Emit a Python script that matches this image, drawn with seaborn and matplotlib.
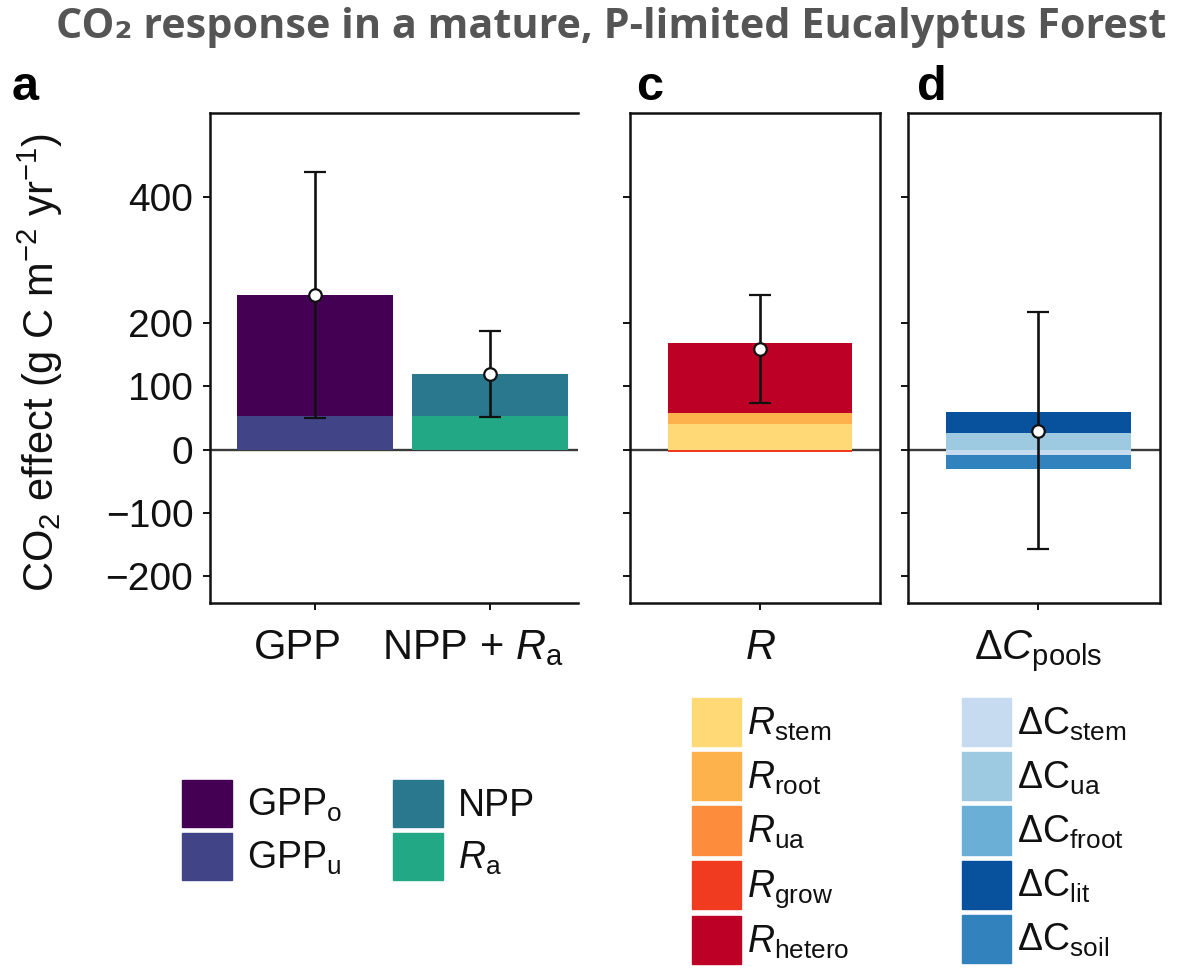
import numpy as np
import pandas as pd
import matplotlib
matplotlib.use("Agg")
import matplotlib.pyplot as plt
import matplotlib.transforms as mtransforms
from matplotlib.patches import Patch
import seaborn as sns

# ---------------- data ----------------
a_categories = ["GPP", "NPP+Ra"]
a_ticklabels = ["GPP", "NPP + $R_\\mathrm{a}$"]
a_components = {
    "GPP": ["GPPu", "GPPo"],
    "NPP+Ra": ["Ra", "NPP"],
}
a_values = {"GPPu": 54, "GPPo": 191, "Ra": 54, "NPP": 66}
a_mean = [245, 120]
a_err_low = [51, 52]
a_err_high = [439, 188]

c_category = ["R"]
c_components = ["Rstem", "Rroot", "Rua", "Rgrow", "Rhetero"]
c_values = [40, 18, -1, -3, 111]
c_mean = [160]
c_err_low = [74]
c_err_high = [245]

d_category = ["dC"]
d_components = ["dCstem", "dCua", "dCfroot", "dClit", "dCsoil"]
d_values = [-8, 26, 1, 32, -23]
d_mean = [30]
d_err_low = [-156]
d_err_high = [218]

y_ticks = [-200, -100, 0, 100, 200, 400]

# ---------------- style ----------------
sns.set_style("ticks")
plt.rcParams["font.family"] = ["Liberation Sans", "DejaVu Sans"]
plt.rcParams["mathtext.fontset"] = "custom"
plt.rcParams["mathtext.rm"] = "Liberation Sans"
plt.rcParams["mathtext.it"] = "Liberation Sans:italic"
plt.rcParams["mathtext.bf"] = "Liberation Sans:bold"
plt.rcParams["axes.unicode_minus"] = True

a_colors = {"GPPo": "#440154", "GPPu": "#414487", "NPP": "#2a788e", "Ra": "#22a884"}
c_colors = ["#fed976", "#feb24c", "#fd8d3c", "#f03b20", "#bd0026"]
d_colors = ["#c6dbef", "#9ecae1", "#6baed6", "#08519c", "#3182bd"]

W, H = 1181, 973
fig = plt.figure(figsize=(W / 100, H / 100), dpi=100)


def px_axes(left, top, right, bottom):
    return fig.add_axes([left / W, 1 - bottom / H, (right - left) / W, (bottom - top) / H])


ax_a = px_axes(210, 113, 578, 603)
ax_c = px_axes(630, 113, 880, 603)
ax_d = px_axes(908, 113, 1160, 603)

YLIM = (-242, 532)
SPINE = "#111111"
TEXT = "#111111"


def stack_bars(ax, cat, order, comps, vals, colors, width):
    pos, neg = 0.0, 0.0
    for comp, v, col in zip(comps, vals, colors):
        if v >= 0:
            b = pos
            pos += v
        else:
            b = neg
            neg += v
        sns.barplot(x=[cat], y=[v], order=order, bottom=b, color=col,
                    width=width, errorbar=None, linewidth=0, saturation=1,
                    ax=ax, zorder=2)


def add_err(ax, xs, mean, lo, hi):
    mean = np.array(mean)
    lo = np.array(lo)
    hi = np.array(hi)
    ax.errorbar(xs, mean, yerr=[mean - lo, hi - mean], fmt="o",
                color="#111111", ecolor="#111111", elinewidth=1.9,
                capsize=8, capthick=1.9, markersize=9,
                markerfacecolor="white", markeredgecolor="#111111",
                markeredgewidth=1.6, zorder=5)


# panel a
for i, cat in enumerate(a_categories):
    comps = a_components[cat]
    stack_bars(ax_a, cat, a_categories, comps, [a_values[c] for c in comps],
               [a_colors[c] for c in comps], 0.89)
add_err(ax_a, [0, 1], a_mean, a_err_low, a_err_high)
ax_a.set_xlim(-0.6, 1.503)

# panel c
stack_bars(ax_c, c_category[0], c_category, c_components, c_values, c_colors, 0.74)
add_err(ax_c, [0], c_mean, c_err_low, c_err_high)
ax_c.set_xlim(-0.52, 0.48)

# panel d
stack_bars(ax_d, d_category[0], d_category, d_components, d_values, d_colors, 0.734)
add_err(ax_d, [0], d_mean, d_err_low, d_err_high)
ax_d.set_xlim(-0.516, 0.484)

for ax in (ax_a, ax_c, ax_d):
    ax.set_ylim(*YLIM)
    ax.set_yticks(y_ticks)
    ax.axhline(0, color="#3a3a3a", lw=1.7, zorder=1)
    ax.set_xlabel("")
    ax.set_ylabel("")
    for s in ax.spines.values():
        s.set_color(SPINE)
        s.set_linewidth(1.8)
    ax.tick_params(axis="both", direction="out", length=5, width=1.4,
                   color=SPINE, labelcolor=TEXT)
    ax.tick_params(axis="x", labelsize=30, pad=13)
    ax.tick_params(axis="y", labelsize=28, pad=7)

ax_a.spines["right"].set_visible(False)
ax_a.set_xticks([0, 1])
ax_a.set_xticklabels(a_ticklabels)
shift = mtransforms.ScaledTranslation(-17 / 100, 0, fig.dpi_scale_trans)
for lbl in ax_a.get_xticklabels():
    lbl.set_transform(lbl.get_transform() + shift)
ax_c.set_xticks([0])
ax_c.set_xticklabels(["$R$"])
ax_d.set_xticks([0])
ax_d.set_xticklabels(["$\\Delta C_\\mathrm{pools}$"])
ax_c.set_yticklabels([])
ax_d.set_yticklabels([])

ax_a.set_ylabel("CO$_2$ effect (g C m$^{-2}$ yr$^{-1}$)", fontsize=30, color=TEXT)
ax_a.yaxis.set_label_coords(-0.394, 0.49)

# panel letters
for lab, xp in (("a", 12), ("c", 636), ("d", 917)):
    fig.text(xp / W, 1 - 100 / H, lab, fontsize=35, fontweight="bold",
             ha="left", va="baseline", color="black")

# title
fig.text(611 / W, 1 - 27 / H, "CO\u2082 response in a mature, P-limited Eucalyptus Forest",
         fontsize=29.8, fontweight="bold", color="#555555", ha="center", va="center",
         family=["Open Sans", "DejaVu Sans"])

# legends
leg_fs = 27
a_handles = [Patch(color=a_colors["GPPo"]), Patch(color=a_colors["GPPu"]),
             Patch(color=a_colors["NPP"]), Patch(color=a_colors["Ra"])]
a_labels = ["GPP$_\\mathrm{o}$", "GPP$_\\mathrm{u}$", "NPP", "$R_\\mathrm{a}$"]
fig.legend(a_handles, a_labels, loc="upper left", bbox_to_anchor=(182 / W, 1 - 780 / H),
           ncol=2, frameon=False, fontsize=leg_fs, borderpad=0, borderaxespad=0,
           handlelength=1.33, handleheight=1.55, handletextpad=0.4,
           labelspacing=0.15, columnspacing=1.37, labelcolor=TEXT)

c_labels = ["$R_\\mathrm{stem}$", "$R_\\mathrm{root}$", "$R_\\mathrm{ua}$",
            "$R_\\mathrm{grow}$", "$R_\\mathrm{hetero}$"]
fig.legend([Patch(color=c) for c in c_colors], c_labels, loc="upper left",
           bbox_to_anchor=(692 / W, 1 - 698 / H), frameon=False, fontsize=leg_fs,
           borderpad=0, borderaxespad=0, handlelength=1.3, handleheight=1.6,
           handletextpad=0.16, labelspacing=0.16, labelcolor=TEXT)

d_labels = ["$\\Delta\\mathrm{C}_\\mathrm{stem}$", "$\\Delta\\mathrm{C}_\\mathrm{ua}$",
            "$\\Delta\\mathrm{C}_\\mathrm{froot}$", "$\\Delta\\mathrm{C}_\\mathrm{lit}$",
            "$\\Delta\\mathrm{C}_\\mathrm{soil}$"]
fig.legend([Patch(color=c) for c in d_colors], d_labels, loc="upper left",
           bbox_to_anchor=(962 / W, 1 - 698 / H), frameon=False, fontsize=leg_fs,
           borderpad=0, borderaxespad=0, handlelength=1.3, handleheight=1.6,
           handletextpad=0.16, labelspacing=0.16, labelcolor=TEXT)

fig.savefig("out.png", dpi=100)
